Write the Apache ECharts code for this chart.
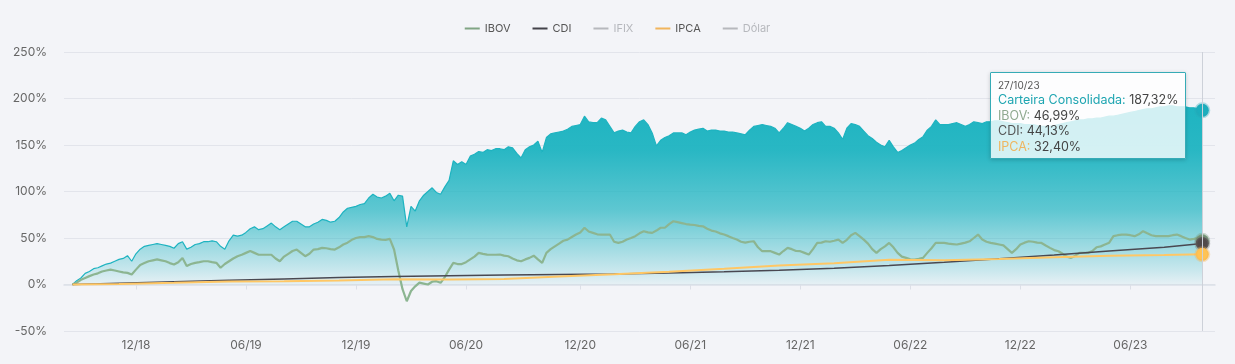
<!DOCTYPE html>
<html>
<head>
<meta charset="utf-8">
<script src="https://cdn.jsdelivr.net/npm/echarts@6/dist/echarts.min.js"></script>
<style>
html,body{margin:0;padding:0;background:#f3f4f8;}
#c{width:1235px;height:364px;}
</style>
</head>
<body>
<div id="c"></div>
<script>
// ---------- DATA ----------
const axisStart = '2018-08-31';   // first weekly category (Friday)
const axisEnd = '2023-11-17';     // last weekly category (Friday)
const seriesStart = '2018-09-14'; // first weekly value of Carteira / IBOV
const tipDate = '2023-10-27';

const yMin = -50, yMax = 250, yStep = 50;
const halfYearMonths = [5, 11]; // June, December tick labels (MM/YY)

const legendNames = ['IBOV', 'CDI', 'IFIX', 'IPCA', 'Dólar'];

// Carteira Consolidada, weekly (%), from seriesStart
const carteira = [
  0, 4, 7, 12, 14, 17, 18, 20, 22, 23,
  25, 27, 28, 31, 25, 33, 38, 41, 42, 43,
  44, 43, 42, 41, 39, 44, 46, 38, 40, 43,
  44, 46, 46, 47, 46, 41, 38, 47, 53, 52,
  53, 56, 60, 62, 59, 60, 63, 66, 62, 59,
  62, 65, 68, 68, 65, 62, 62, 65, 67, 70,
  69, 67, 68, 72, 78, 82, 83, 84, 86, 87,
  93, 97, 94, 93, 95, 98, 90, 96, 95, 62,
  84, 79, 90, 96, 100, 104, 99, 97, 105, 112,
  133, 129, 132, 129, 138, 140, 143, 142, 145, 144,
  146, 146, 145, 148, 147, 141, 136, 145, 148, 150,
  154, 142, 158, 162, 163, 164, 165, 167, 170, 171,
  172, 181, 175, 174, 174, 179, 177, 170, 163, 165,
  166, 164, 163, 170, 175, 177, 172, 163, 149, 155,
  158, 160, 163, 163, 163, 161, 164, 166, 167, 168,
  165, 166, 166, 165, 165, 164, 164, 163, 162, 161,
  166, 170, 171, 172, 171, 170, 168, 163, 168, 174,
  172, 170, 168, 165, 168, 172, 174, 175, 170, 170,
  168, 163, 156, 168, 173, 172, 170, 165, 160, 157,
  153, 150, 148, 155, 148, 142, 144, 147, 150, 152,
  156, 159, 166, 170, 177, 172, 172, 172, 173, 174,
  172, 170, 172, 175, 174, 173, 175, 175, 176, 176,
  175, 174, 173, 173, 173, 172, 172, 172, 171, 170,
  170, 170, 171, 172, 173, 174, 175, 176, 177, 177,
  178, 178, 179, 179, 180, 181, 181, 182, 183, 184,
  185, 186, 187, 188, 189, 189, 190, 191, 191, 192,
  192, 191, 191, 191, 190, 190, 189, 187.32
];

// IBOV, weekly (%), from seriesStart
const ibov = [
  0, 2, 5, 7, 9, 10.7, 12, 14, 15, 16,
  15, 14, 13, 12.5, 10.7, 16, 21, 23, 25, 26,
  27, 26, 25, 23, 21.5, 24, 28.6, 20, 22, 23.3,
  24, 25, 25, 24, 23.3, 18, 22, 25, 28, 30.4,
  32, 34, 36, 34, 32, 32, 32, 32, 28, 25,
  30, 33, 36, 37.6, 34, 30.4, 33, 37.6, 38, 39.4,
  39, 38, 37.6, 40, 43, 45, 48, 50, 51, 51,
  52, 51, 49, 48.3, 48, 49, 37.6, 15, -5, -18,
  -7, -2, 2, 1, 0, 3, 3.6, 1.8, 8, 16,
  23.3, 22, 22, 24, 27, 30, 34, 33, 32.2, 32,
  32, 32.2, 31, 30.4, 28, 26, 25, 27, 28.6, 31,
  27, 23.3, 34, 38, 41, 44, 47, 48.3, 51, 53.7,
  56, 61, 57, 55.5, 54, 53.7, 53.7, 53.7, 46, 44.7,
  46, 48.3, 50, 52, 55, 57.3, 56, 55.5, 58, 61,
  61, 65, 68, 67, 66, 65, 64.4, 64, 63, 62.6,
  60, 58, 57, 55, 53.7, 52, 50, 48.3, 46, 45,
  46, 46.5, 40, 35.8, 36, 35.8, 34, 32.2, 36, 39.4,
  38, 36, 35.8, 34, 32.2, 38, 44.7, 45, 46.5, 46,
  47, 48.3, 44.7, 48, 53, 55.5, 52, 48.3, 44, 38,
  34, 38, 41, 44.7, 40, 34, 30, 28.6, 27, 26.9,
  27.5, 28.6, 34, 39, 44.7, 44.7, 44.7, 44, 43.5, 43,
  44, 45, 46.5, 50, 53.7, 48.3, 46, 44.7, 44, 43,
  42, 38, 34, 38, 43, 45, 46.5, 46, 45, 44.7,
  42, 39.4, 37, 35.8, 33, 30, 28.6, 31, 34, 34,
  34, 36, 40, 41, 43, 45, 52, 53, 53.7, 53.7,
  53, 52, 54, 57.3, 55, 53, 52, 52, 52, 52,
  53, 53.7, 52, 50, 48.3, 49, 50, 46.99
];

// CDI and IPCA, cumulative (%), quarterly readings
const indexDates = [
  '2018-09-14', '2018-11-30', '2019-03-01', '2019-05-31', '2019-08-30', '2019-11-29',
  '2020-02-28', '2020-05-29', '2020-08-28', '2020-11-27', '2021-02-26', '2021-05-28',
  '2021-08-27', '2021-11-26', '2022-02-25', '2022-05-27', '2022-08-26', '2022-11-25',
  '2023-02-24', '2023-05-26', '2023-08-25', '2023-10-27'
];
const cdi = [
  0, 1.3, 3.0, 4.6, 6.0, 7.4,
  8.5, 9.5, 10.2, 10.8, 11.4, 12.3,
  13.6, 15.4, 17.6, 20.5, 24.0, 27.8,
  31.7, 35.9, 40.0, 44.13
];
const ipca = [
  0, 0.5, 1.8, 3.2, 3.6, 4.3,
  5.6, 5.3, 6.0, 8.6, 11.0, 13.8,
  17.0, 20.3, 22.8, 26.5, 26.0, 27.3,
  29.3, 31.0, 31.6, 32.40
];
const ifix = [];
const dolar = [];

// ---------- HELPERS ----------
const DAY = 864e5;
const toDate = s => new Date(s + 'T00:00:00Z');
const fmt = d => d.toISOString().slice(0, 10);
function weeksBetween(a, b) {
  const out = [];
  for (let t = toDate(a).getTime(); t <= toDate(b).getTime(); t += 7 * DAY) out.push(fmt(new Date(t)));
  return out;
}
function weeklyPairs(start, values) {
  const t0 = toDate(start).getTime();
  return values.map((v, i) => [fmt(new Date(t0 + i * 7 * DAY)), v]);
}
const zip = (dates, values) => values.map((v, i) => [dates[i], v]);
function halfYearEnd(val) {
  const d = toDate(val).getTime();
  for (let k = -2; k <= 4; k++) {
    const t = new Date(d + k * DAY);
    const n = new Date(d + (k + 1) * DAY);
    if (n.getUTCMonth() !== t.getUTCMonth() && halfYearMonths.includes(t.getUTCMonth())) return t;
  }
  return null;
}
const showTick = (idx, val) => halfYearEnd(val) !== null;

function markLast(pairs, color, halo) {
  const out = pairs.slice();
  const last = out[out.length - 1];
  out[out.length - 1] = {
    value: last, symbol: 'circle', symbolSize: 13,
    itemStyle: { color: color, borderColor: halo, borderWidth: 3 }
  };
  return out;
}

const categories = weeksBetween(axisStart, axisEnd);

const colors = {
  'Carteira Consolidada': '#1ca3af',
  'IBOV': '#80a584',
  'CDI': '#43424a',
  'IFIX': '#b9c3cc',
  'IPCA': '#f1b55c',
  'Dólar': '#9aa5b1'
};
const labelColors = {
  'Carteira Consolidada': '#1ea5b1',
  'IBOV': '#8fa98f',
  'CDI': '#555',
  'IPCA': '#efb55f',
  'IFIX': '#999',
  'Dólar': '#999'
};

const FONT = 'Inter';

const chart = echarts.init(document.getElementById('c'), null, { renderer: 'canvas' });

const option = {
  backgroundColor: '#f3f4f8',
  animation: false,
  textStyle: { fontFamily: FONT },
  legend: {
    data: legendNames,
    top: 18,
    left: 'center',
    icon: 'rect',
    itemWidth: 15,
    itemHeight: 2,
    itemGap: 22,
    inactiveColor: '#b6b8bd',
    selected: { 'IFIX': false, 'Dólar': false },
    textStyle: { fontSize: 11, color: '#555', fontFamily: FONT }
  },
  grid: { left: 64, right: 20, top: 52, bottom: 33 },
  tooltip: {
    trigger: 'axis',
    alwaysShowContent: true,
    transitionDuration: 0,
    position: [990, 72],
    padding: [5, 7, 4, 7],
    backgroundColor: 'rgba(255,255,255,0.8)',
    borderColor: '#36abb6',
    borderWidth: 1.5,
    extraCssText: 'box-shadow:0 1px 4px rgba(0,0,0,0.18);border-radius:1px;',
    textStyle: { fontFamily: FONT, color: '#444' },
    axisPointer: { type: 'line', animation: false, lineStyle: { color: '#cdd1d9', width: 1, type: 'solid' } },
    formatter: function (params) {
      const d = params[0].axisValue.split('-');
      let html = '<div style="font-family:Inter;font-size:10px;line-height:14px;color:#555">' +
        d[2] + '/' + d[1] + '/' + d[0].slice(2) + '</div>';
      params.forEach(p => {
        const v = Array.isArray(p.value) ? p.value[1] : p.value;
        html += '<div style="font-family:Inter;font-size:12.5px;line-height:15.5px;white-space:nowrap">' +
          '<span style="color:' + labelColors[p.seriesName] + '">' + p.seriesName + ':</span> ' +
          '<span style="color:#444">' + Number(v).toFixed(2).replace('.', ',') + '%</span></div>';
      });
      return html;
    }
  },
  xAxis: {
    type: 'category',
    data: categories,
    boundaryGap: false,
    axisLine: { lineStyle: { color: '#dcdfe7', width: 1.5 } },
    axisTick: { show: true, interval: showTick, length: 5, lineStyle: { color: '#dcdfe7' } },
    axisLabel: {
      interval: showTick,
      margin: 8,
      color: '#666',
      fontSize: 12,
      fontFamily: FONT,
      formatter: function (val) {
        const t = halfYearEnd(val);
        if (!t) return '';
        const m = String(t.getUTCMonth() + 1).padStart(2, '0');
        return m + '/' + String(t.getUTCFullYear()).slice(2);
      }
    },
    splitLine: { show: false }
  },
  yAxis: {
    type: 'value',
    min: yMin, max: yMax, interval: yStep,
    axisLine: { show: false },
    axisTick: { show: false },
    axisLabel: { formatter: '{value}%', color: '#666', fontSize: 12, margin: 17, fontFamily: FONT },
    splitLine: { lineStyle: { color: '#e2e4eb', width: 1 } }
  },
  series: [
    {
      name: 'Carteira Consolidada', type: 'line',
      data: markLast(weeklyPairs(seriesStart, carteira), '#1a9fac', 'rgba(40,170,182,0.35)'),
      symbol: 'none', showSymbol: true, showAllSymbol: true,
      lineStyle: { color: colors['Carteira Consolidada'], width: 1.2 },
      itemStyle: { color: colors['Carteira Consolidada'] },
      areaStyle: {
        opacity: 1,
        color: new echarts.graphic.LinearGradient(0, 0, 0, 1, [
          { offset: 0, color: 'rgba(28,164,176,1)' },
          { offset: 0.25, color: 'rgba(28,164,176,0.95)' },
          { offset: 0.58, color: 'rgba(28,164,176,0.7)' },
          { offset: 0.8, color: 'rgba(28,164,176,0.38)' },
          { offset: 0.92, color: 'rgba(28,164,176,0.2)' },
          { offset: 1, color: 'rgba(28,164,176,0.06)' }
        ])
      },
      emphasis: { scale: false },
      z: 2
    },
    {
      name: 'IBOV', type: 'line',
      data: markLast(weeklyPairs(seriesStart, ibov), '#6f9271', 'rgba(120,150,120,0.35)'),
      symbol: 'none', showSymbol: true, showAllSymbol: true,
      lineStyle: { color: colors['IBOV'], width: 2.2 },
      itemStyle: { color: colors['IBOV'] },
      emphasis: { scale: false },
      z: 3
    },
    {
      name: 'CDI', type: 'line',
      data: markLast(zip(indexDates, cdi), '#4a4444', 'rgba(110,110,110,0.35)'),
      symbol: 'none', showSymbol: true, showAllSymbol: true,
      lineStyle: { color: colors['CDI'], width: 1.5 },
      itemStyle: { color: colors['CDI'] },
      emphasis: { scale: false },
      z: 4
    },
    {
      name: 'IFIX', type: 'line', data: ifix, symbol: 'none',
      lineStyle: { color: colors['IFIX'] }, itemStyle: { color: colors['IFIX'] }
    },
    {
      name: 'IPCA', type: 'line',
      data: markLast(zip(indexDates, ipca), '#f5b24e', 'rgba(245,180,80,0.35)'),
      symbol: 'none', showSymbol: true, showAllSymbol: true,
      lineStyle: { color: colors['IPCA'], width: 2 },
      itemStyle: { color: colors['IPCA'] },
      emphasis: { scale: false },
      z: 5
    },
    {
      name: 'Dólar', type: 'line', data: dolar, symbol: 'none',
      lineStyle: { color: colors['Dólar'] }, itemStyle: { color: colors['Dólar'] }
    }
  ]
};

chart.setOption(option);
chart.dispatchAction({ type: 'showTip', seriesIndex: 0, dataIndex: carteira.length - 1 });
</script>
</body>
</html>
